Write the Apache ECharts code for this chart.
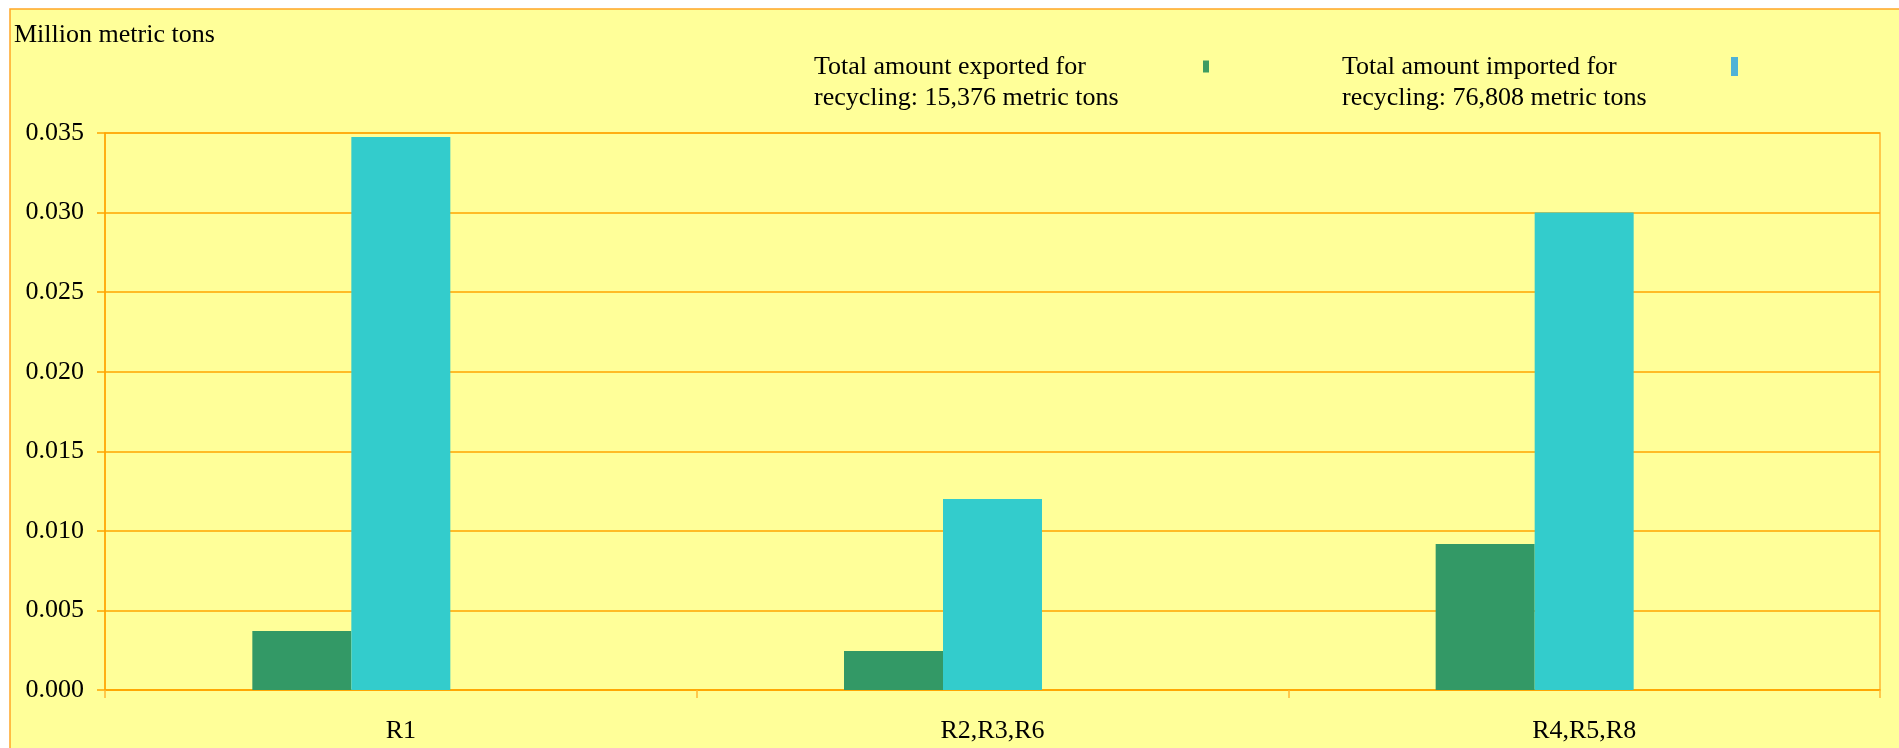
<!DOCTYPE html>
<html>
<head>
<meta charset="utf-8">
<script src="https://cdn.jsdelivr.net/npm/echarts@6/dist/echarts.min.js"></script>
<style>
  html, body { margin: 0; padding: 0; background: #ffffff; }
  #main { width: 1899px; height: 748px; }
</style>
</head>
<body>
<div id="main"></div>
<script>
  // regions
  const categories = ['R1', 'R2,R3,R6', 'R4,R5,R8']
  // million metric tons
  const exported = [0.0037, 0.00245, 0.00917]
  const imported = [0.03475, 0.012, 0.03]
  const exportName = 'Total amount exported for recycling: 15,376 metric tons'
  const importName = 'Total amount imported for recycling: 76,808 metric tons'

  const font = 'Liberation Serif'
  const orange = '#FFA500'

  // two lines, left aligned
  const twoLines = (name) => {
    const idx = name.indexOf(' for ')
    return `{a|${name.slice(0, idx + 4)}}\n{a|${name.slice(idx + 5)}}`
  }
  const legendText = {
    fontFamily: font,
    fontSize: 26,
    color: '#000',
    padding: [32, 0, 0, 0],
    rich: {
      a: { fontFamily: font, fontSize: 26, color: '#000', width: 384, align: 'left', lineHeight: 31 },
    },
  }

  const chart = echarts.init(document.getElementById('main'))
  const option = {
    backgroundColor: '#ffffff',
    animation: false,
    graphic: [
      {
        type: 'rect',
        z: -100,
        shape: { x: 10, y: 9, width: 2000, height: 1000 },
        style: { fill: '#FFFF99', stroke: '#FFA726', lineWidth: 1.5 },
      },
    ],
    title: {
      text: 'Million metric tons',
      left: 9,
      top: 16,
      textStyle: { fontFamily: font, fontSize: 26, fontWeight: 'normal', color: '#000', lineHeight: 28 },
    },
    legend: [
      {
        left: 809,
        top: 49,
        align: 'right',
        itemWidth: 6,
        itemHeight: 12,
        selectedMode: false,
        data: [{ name: exportName, icon: 'rect', itemStyle: { color: '#3E9C62' } }],
        formatter: twoLines,
        textStyle: legendText,
      },
      {
        left: 1337,
        top: 49,
        align: 'right',
        itemWidth: 7,
        itemHeight: 19,
        selectedMode: false,
        data: [{ name: importName, icon: 'rect', itemStyle: { color: '#4FB2D6' } }],
        formatter: twoLines,
        textStyle: legendText,
      },
    ],
    grid: {
      left: 105,
      right: 19,
      top: 133,
      bottom: 58,
      show: true,
      borderColor: '#FFB833',
      borderWidth: 1.5,
      backgroundColor: 'transparent',
    },
    xAxis: {
      type: 'category',
      data: categories,
      boundaryGap: true,
      axisLine: { lineStyle: { color: orange, width: 1.5 } },
      axisTick: { show: true, length: 8, lineStyle: { color: '#FFB833', width: 1.5 } },
      axisLabel: { fontFamily: font, fontSize: 26, color: '#000', margin: 28 },
    },
    yAxis: {
      type: 'value',
      min: 0,
      max: 0.035,
      interval: 0.005,
      axisLine: { show: true, lineStyle: { color: orange, width: 1.5 } },
      axisTick: { show: true, length: 8, lineStyle: { color: orange, width: 1.5 } },
      splitLine: { lineStyle: { color: orange, width: 1.5 } },
      axisLabel: {
        fontFamily: font,
        fontSize: 26,
        color: '#000',
        margin: 21,
        formatter: (v) => v.toFixed(3),
      },
    },
    series: [
      {
        name: exportName,
        type: 'bar',
        barWidth: 99,
        barGap: '0%',
        itemStyle: { color: '#339966' },
        data: exported,
      },
      {
        name: importName,
        type: 'bar',
        barWidth: 99,
        barGap: '0%',
        itemStyle: { color: '#33CCCC' },
        data: imported,
      },
      {
        // empty third slot, keeps the pair left of centre
        name: 'blank',
        type: 'bar',
        barWidth: 99,
        barGap: '0%',
        data: ['-', '-', '-'],
      },
    ],
  }
  chart.setOption(option)
</script>
</body>
</html>
